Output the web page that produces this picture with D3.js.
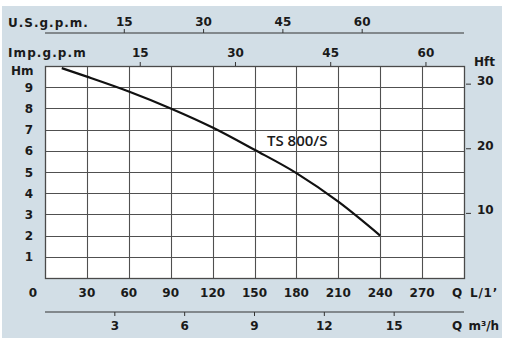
<!DOCTYPE html>
<html><head><meta charset="utf-8">
<script src="https://cdn.jsdelivr.net/npm/d3@7"></script>
<style>
html,body{margin:0;padding:0;background:#fff;}
text{font-family:"DejaVu Sans",sans-serif;fill:#1a1a1a;}
</style></head>
<body><svg id="c" width="510" height="356"></svg>
<script>
// data
const flowLmin = [12, 30, 60, 90, 120, 150, 180, 210, 240];
const headM    = [9.9, 9.5, 8.8, 8.0, 7.1, 6.05, 4.95, 3.6, 2.0];
const seriesName = "TS 800/S";
const lminTicks = [30, 60, 90, 120, 150, 180, 210, 240, 270];
const hmTicks = [1, 2, 3, 4, 5, 6, 7, 8, 9];
const usgpmTicks = [15, 30, 45, 60];
const impgpmTicks = [15, 30, 45, 60];
const m3hTicks = [3, 6, 9, 12, 15];
const hftTicks = [10, 20, 30];

const svg = d3.select("#c");
const L = 45, R = 464, T = 66, B = 278;
const x = d3.scaleLinear().domain([0, 300]).range([L, R]);
const y = d3.scaleLinear().domain([0, 10]).range([B, T]);

svg.append("rect").attr("x", 2).attr("y", 6).attr("width", 500).attr("height", 332).attr("fill", "#d2dee6");
svg.append("rect").attr("x", L).attr("y", T).attr("width", R - L).attr("height", B - T).attr("fill", "#fff");

const grid = svg.append("g").attr("stroke", "#505050").attr("stroke-width", 1.1);
grid.selectAll("line.v").data(lminTicks).join("line")
  .attr("x1", d => Math.round(x(d)) + 0.5).attr("x2", d => Math.round(x(d)) + 0.5).attr("y1", T).attr("y2", B);
grid.selectAll("line.h").data(hmTicks).join("line")
  .attr("y1", d => Math.round(y(d)) + 0.5).attr("y2", d => Math.round(y(d)) + 0.5).attr("x1", L).attr("x2", R);
svg.append("rect").attr("x", L + 0.5).attr("y", T + 0.5).attr("width", R - L).attr("height", B - T)
  .attr("fill", "none").attr("stroke", "#4a4a4a").attr("stroke-width", 1.3);

const fs = 12;
// left Hm labels
svg.append("g").selectAll("text").data(hmTicks).join("text")
  .attr("x", 33).attr("y", d => y(d) + 4.5).attr("text-anchor", "end")
  .attr("font-size", fs).attr("font-weight", "bold").text(d => d);
svg.append("text").attr("x", 11).attr("y", 75).attr("font-size", fs).attr("font-weight", "bold").text("Hm");

// bottom L/min
svg.append("g").selectAll("text").data([0].concat(lminTicks)).join("text")
  .attr("x", d => d === 0 ? 33 : x(d)).attr("y", 297).attr("text-anchor", "middle")
  .attr("font-size", fs).attr("font-weight", "bold").text(d => d);
svg.append("text").attr("x", 452).attr("y", 297).attr("font-size", fs).attr("font-weight", "bold")
  .attr("letter-spacing", 0.8).attr("word-spacing", 2).text("Q L/1\u2019");

// m3/h axis
const xm = d3.scaleLinear().domain([0, 300 * 60 / 1000]).range([L, R]);
const gm = svg.append("g").attr("transform", "translate(0,312)");
gm.append("line").attr("x1", L).attr("x2", R).attr("stroke", "#333").attr("stroke-width", 1.2);
gm.selectAll("line.t").data(m3hTicks).join("line").attr("class", "t")
  .attr("x1", d => xm(d)).attr("x2", d => xm(d)).attr("y1", 0).attr("y2", 4).attr("stroke", "#333");
gm.selectAll("text").data(m3hTicks).join("text")
  .attr("x", d => xm(d)).attr("y", 18).attr("text-anchor", "middle")
  .attr("font-size", fs).attr("font-weight", "bold").text(d => d);
svg.append("text").attr("x", 452).attr("y", 330).attr("font-size", fs).attr("font-weight", "bold")
  .attr("word-spacing", 2).text("Q m\u00b3/h");

// US gpm axis
const xus = d3.scaleLinear().domain([0, 300 / 3.785]).range([L, R]);
const gu = svg.append("g").attr("transform", "translate(0,33)");
gu.append("line").attr("x1", L).attr("x2", R).attr("stroke", "#333").attr("stroke-width", 1.2);
gu.selectAll("line.t").data(usgpmTicks).join("line").attr("class", "t")
  .attr("x1", d => xus(d)).attr("x2", d => xus(d)).attr("y1", -4).attr("y2", 0).attr("stroke", "#333");
gu.selectAll("text").data(usgpmTicks).join("text")
  .attr("x", d => xus(d)).attr("y", -7).attr("text-anchor", "middle")
  .attr("font-size", fs).attr("font-weight", "bold").text(d => d);
svg.append("text").attr("x", 8).attr("y", 27).attr("font-size", fs).attr("font-weight", "bold").attr("letter-spacing", 1).text("U.S.g.p.m.");

// Imp gpm
const xim = d3.scaleLinear().domain([0, 300 / 4.546]).range([L, R]);
svg.append("g").selectAll("line").data(impgpmTicks).join("line")
  .attr("x1", d => xim(d)).attr("x2", d => xim(d)).attr("y1", T - 4).attr("y2", T).attr("stroke", "#333");
svg.append("g").selectAll("text").data(impgpmTicks).join("text")
  .attr("x", d => xim(d)).attr("y", 57).attr("text-anchor", "middle")
  .attr("font-size", fs).attr("font-weight", "bold").text(d => d);
svg.append("text").attr("x", 8).attr("y", 57).attr("font-size", fs).attr("font-weight", "bold").attr("letter-spacing", 1.1).text("Imp.g.p.m");

// Hft
const yft = d3.scaleLinear().domain([0, 10 / 0.3048]).range([B, T]);
svg.append("g").selectAll("line").data(hftTicks).join("line")
  .attr("x1", R + 2).attr("x2", R + 7).attr("y1", d => yft(d)).attr("y2", d => yft(d)).attr("stroke", "#333");
svg.append("g").selectAll("text").data(hftTicks).join("text")
  .attr("x", 477).attr("y", d => yft(d) + 1).attr("font-size", fs).attr("font-weight", "bold").text(d => d);
svg.append("text").attr("x", 474).attr("y", 66).attr("font-size", fs).attr("font-weight", "bold").text("Hft");

// curve
const pts = flowLmin.map((q, i) => [q, headM[i]]);
svg.append("path").datum(pts)
  .attr("d", d3.line().x(d => x(d[0])).y(d => y(d[1])).curve(d3.curveMonotoneX))
  .attr("fill", "none").attr("stroke", "#111").attr("stroke-width", 2.2);
svg.append("text").attr("x", 267).attr("y", 146).attr("font-size", 15).attr("font-weight", "600")
  .style("font-family", "'Open Sans',sans-serif").text(seriesName);
</script></body></html>
